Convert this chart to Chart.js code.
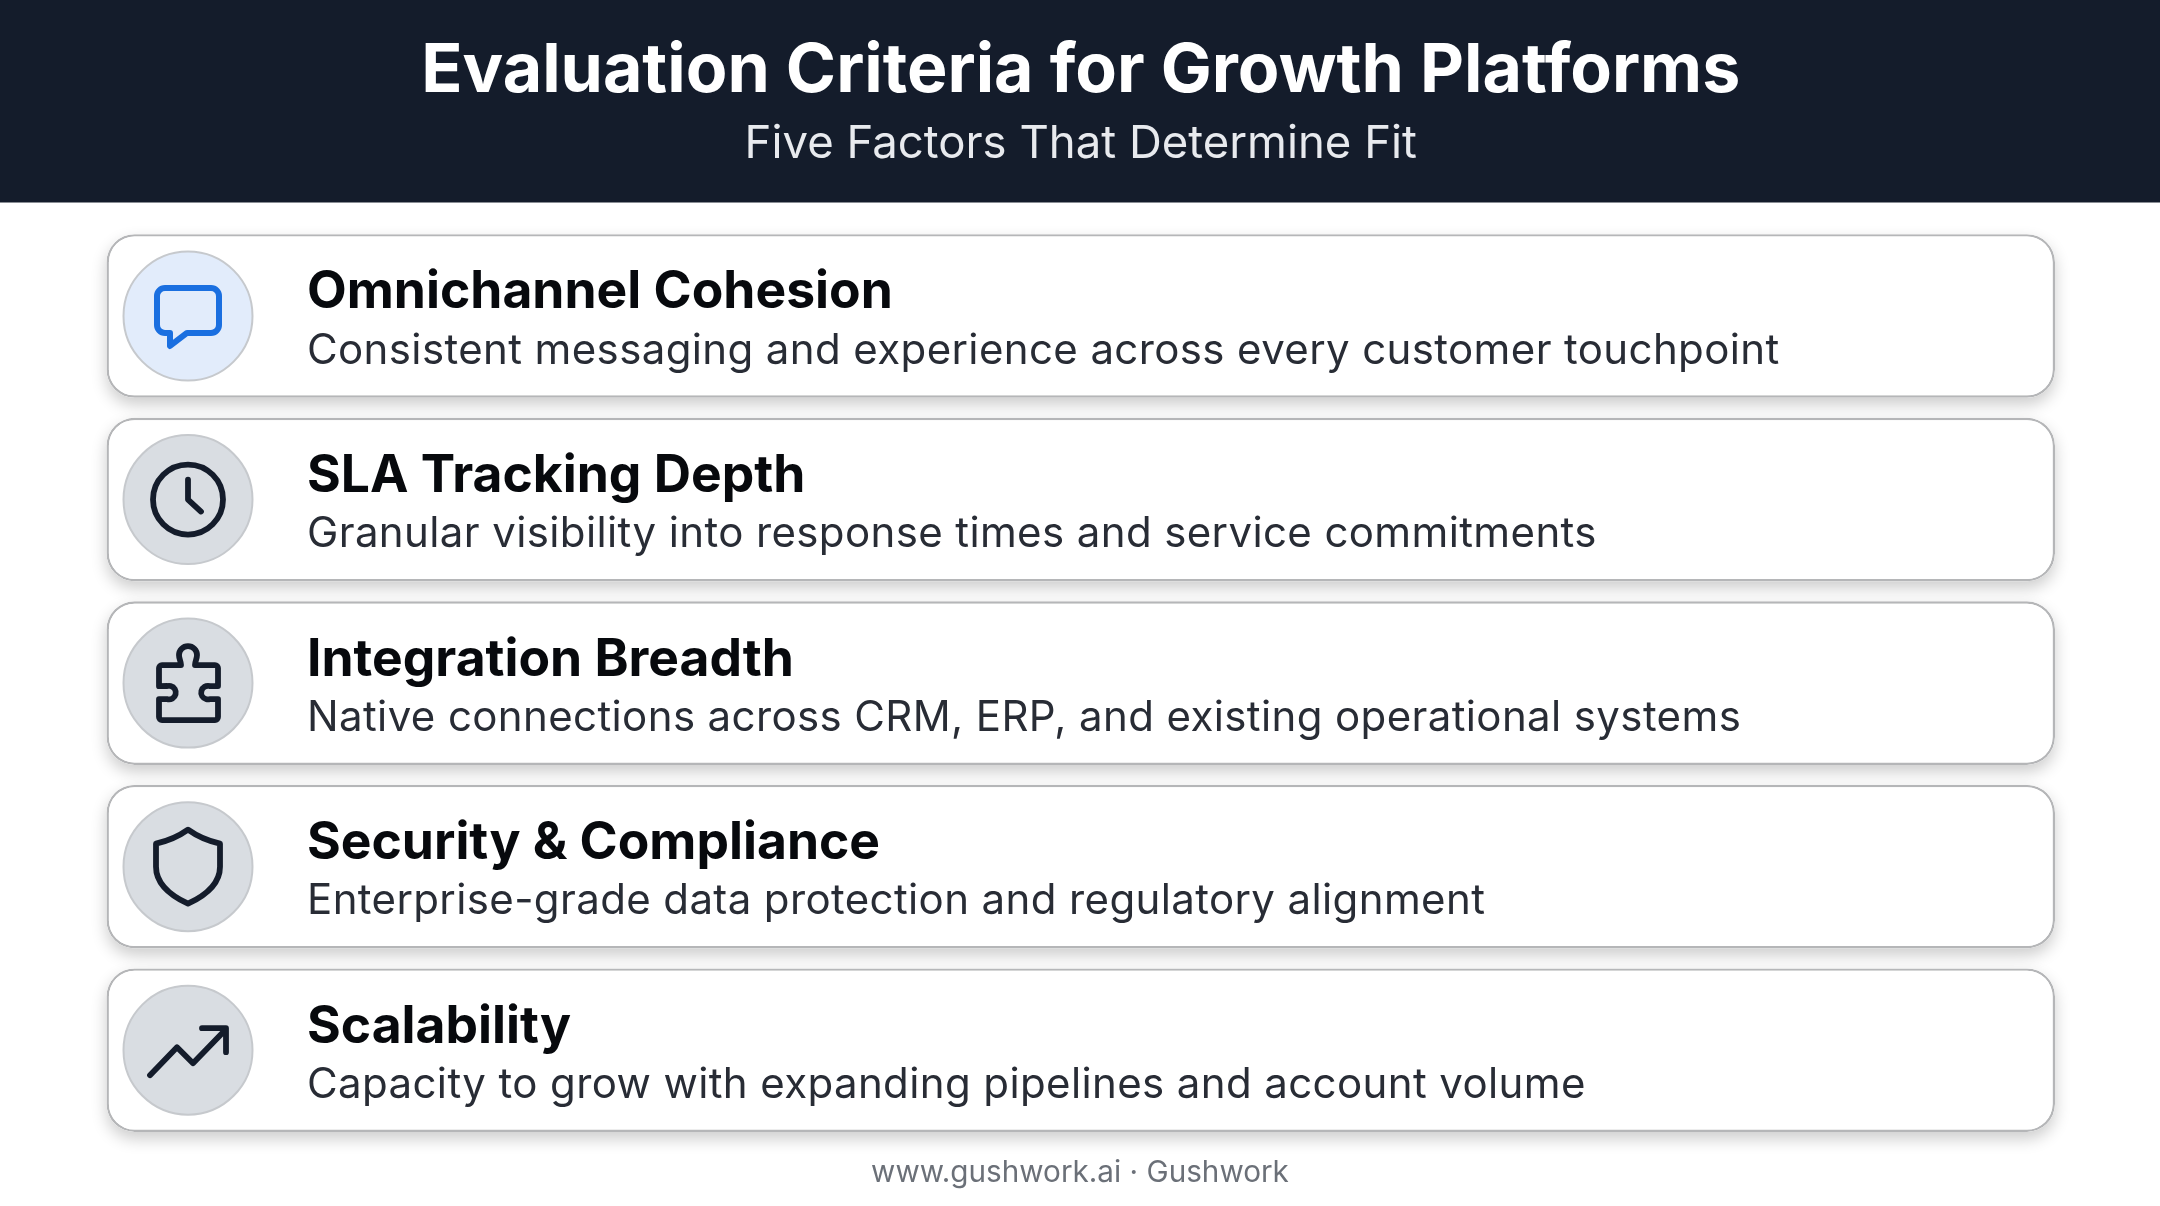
<!DOCTYPE html>
<html>
<head>
<meta charset="utf-8">
<style>html,body{margin:0;padding:0;background:#fff}canvas{display:block}</style>
<script src="https://cdn.jsdelivr.net/npm/chart.js@4"></script>
</head>
<body>
<canvas id="c" width="2160" height="1206"></canvas>
<script>
const chartTitle = "Evaluation Criteria for Growth Platforms";
const chartSubtitle = "Five Factors That Determine Fit";
const footerText = "www.gushwork.ai · Gushwork";
const categories = ["Omnichannel Cohesion","SLA Tracking Depth","Integration Breadth","Security & Compliance","Scalability"];
const descriptions = [
  "Consistent messaging and experience across every customer touchpoint",
  "Granular visibility into response times and service commitments",
  "Native connections across CRM, ERP, and existing operational systems",
  "Enterprise-grade data protection and regulatory alignment",
  "Capacity to grow with expanding pipelines and account volume"
];
const cardSpan = [1,1,1,1,1];
const iconNames = ["chat","clock","puzzle","shield","trend"];
const circleFills = ["#e2ecfb","#d9dde2","#d9dde2","#d9dde2","#d9dde2"];
const iconColors = ["#1a6fe0","#141c2b","#141c2b","#141c2b","#141c2b"];

const FONT = "Inter, 'Noto Sans', sans-serif";
const ICON_X = 81.5/1948.5;
const CARD_RADIUS = 28;

const iconPaths = {
  chat(p){ p.moveTo(-1,17);p.lineTo(-18,30);p.lineTo(-18,17);p.lineTo(-23,17);
    p.arcTo(-31,17,-31,9,8);p.lineTo(-31,-20);p.arcTo(-31,-28,-23,-28,8);p.lineTo(23,-28);
    p.arcTo(31,-28,31,-20,8);p.lineTo(31,9);p.arcTo(31,17,23,17,8);p.closePath(); },
  clock(p){ p.moveTo(35,0);p.arc(0,0,35,0,Math.PI*2);p.closePath();p.moveTo(0,-20);p.lineTo(0,0);p.lineTo(13,12); },
  puzzle(p){ p.moveTo(-26,-18);p.lineTo(-7,-18);p.bezierCurveTo(-7,-22,-9,-24,-9,-28);
    p.arc(0,-28,9,Math.PI,0);p.bezierCurveTo(9,-24,7,-22,7,-18);p.lineTo(27,-18);
    p.arcTo(30,-18,30,-15,3);p.lineTo(30,3);p.lineTo(22,3);p.arc(20,9.5,6.8,-Math.PI*0.42,Math.PI*0.42,true);
    p.lineTo(30,16);p.lineTo(30,34);p.arcTo(30,37,27,37,3);p.lineTo(-26,37);p.arcTo(-29,37,-29,34,3);
    p.lineTo(-29,16);p.lineTo(-21,16);p.arc(-19,9.5,6.8,Math.PI*0.58,-Math.PI*0.58,true);p.lineTo(-29,3);
    p.lineTo(-29,-15);p.arcTo(-29,-18,-26,-18,3);p.closePath(); },
  shield(p){ p.moveTo(0,-37);p.quadraticCurveTo(-14,-27,-32,-23);p.lineTo(-32,0);
    p.bezierCurveTo(-32,18,-15,30,0,37);p.bezierCurveTo(15,30,32,18,32,0);p.lineTo(32,-23);
    p.quadraticCurveTo(14,-27,0,-37);p.closePath(); },
  trend(p){ p.moveTo(-38,25);p.lineTo(-11,-3);p.lineTo(5,13);p.lineTo(37,-20);p.moveTo(14,-22);p.lineTo(38,-22);p.lineTo(38,2); }
};

const cardExtras = {
  id:"cardExtras",
  beforeDraw(chart){
    const g=chart.ctx;
    g.save();
    g.fillStyle="#fff";g.fillRect(0,0,chart.width,chart.height);
    g.fillStyle="#141c2b";g.fillRect(0,0,chart.width,202.5);
    g.restore();
  },
  beforeDatasetDraw(chart,args){
    if(args.meta.type!=="bar") return;
    const g=chart.ctx;
    g.save();
    g.shadowColor="rgba(0,0,0,0.20)";g.shadowBlur=16;g.shadowOffsetY=7;g.fillStyle="#fff";
    args.meta.data.forEach(b=>{
      const {x,y,base,height}=b.getProps(["x","y","base","height"],true);
      g.beginPath();g.roundRect(base,y-height/2,x-base,height,CARD_RADIUS);g.fill();
    });
    g.restore();
  },
  afterDraw(chart){
    const g=chart.ctx, y=chart.scales.y, x=chart.scales.x;
    g.save();
    categories.forEach((c,i)=>{
      const cy=y.getPixelForValue(i), cx=x.getPixelForValue(ICON_X);
      g.save();g.translate(cx,cy);
      g.strokeStyle=iconColors[i];g.lineWidth=i===0?6:5.8;g.lineCap="round";g.lineJoin="round";
      g.beginPath();iconPaths[iconNames[i]](g);g.stroke();
      g.restore();
      g.font="400 42px "+FONT;g.fillStyle="#282c35";g.textAlign="left";g.textBaseline="middle";
      g.letterSpacing="0.38px";
      g.fillText(descriptions[i],307,cy+35);
      g.letterSpacing="0px";
    });
    g.font="400 29.7px "+FONT;g.fillStyle="#6b7078";g.textAlign="center";g.textBaseline="middle";
    g.fillText(footerText,1080,1173.5);
    g.restore();
  }
};

new Chart(document.getElementById("c"),{
  type:"bar",
  data:{
    labels:categories,
    datasets:[
      {type:"line",indexAxis:"y",order:0,showLine:false,
       data:categories.map(c=>({x:ICON_X,y:c})),
       pointRadius:64.5,pointHoverRadius:64.5,pointBackgroundColor:circleFills,pointBorderColor:"#c6c9cd",pointBorderWidth:2,clip:false},
      {order:1,data:cardSpan,backgroundColor:"#ffffff",borderColor:"#b5b6b8",borderWidth:2.4,borderRadius:CARD_RADIUS,borderSkipped:false,
       categoryPercentage:1,barPercentage:163.5/183.5,clip:false}
    ]
  },
  options:{
    indexAxis:"y",responsive:false,animation:false,devicePixelRatio:1,
    layout:{autoPadding:false,padding:{left:106.5,right:105,top:0,bottom:64}},
    plugins:{
      legend:{display:false},tooltip:{enabled:false},
      title:{display:true,text:chartTitle,color:"#ffffff",font:{family:FONT,size:68,weight:"700",lineHeight:1.2},padding:{top:31,bottom:0}},
      subtitle:{display:true,text:chartSubtitle,color:"#e8eaee",font:{family:FONT,size:45.5,weight:"400",lineHeight:1.2},padding:{top:4.4,bottom:52.6}}
    },
    scales:{
      x:{display:false,min:0,max:1},
      y:{type:"category",grid:{display:false,drawTicks:false},border:{display:false},
         afterFit(s){s.width=0;s.paddingTop=0;s.paddingBottom=0;},
         ticks:{mirror:true,padding:200.5,z:2,labelOffset:-23,autoSkip:false,color:"#07090d",font:{family:FONT,size:51.6,weight:"700"}}}
    }
  },
  plugins:[cardExtras]
});
</script>
</body>
</html>
